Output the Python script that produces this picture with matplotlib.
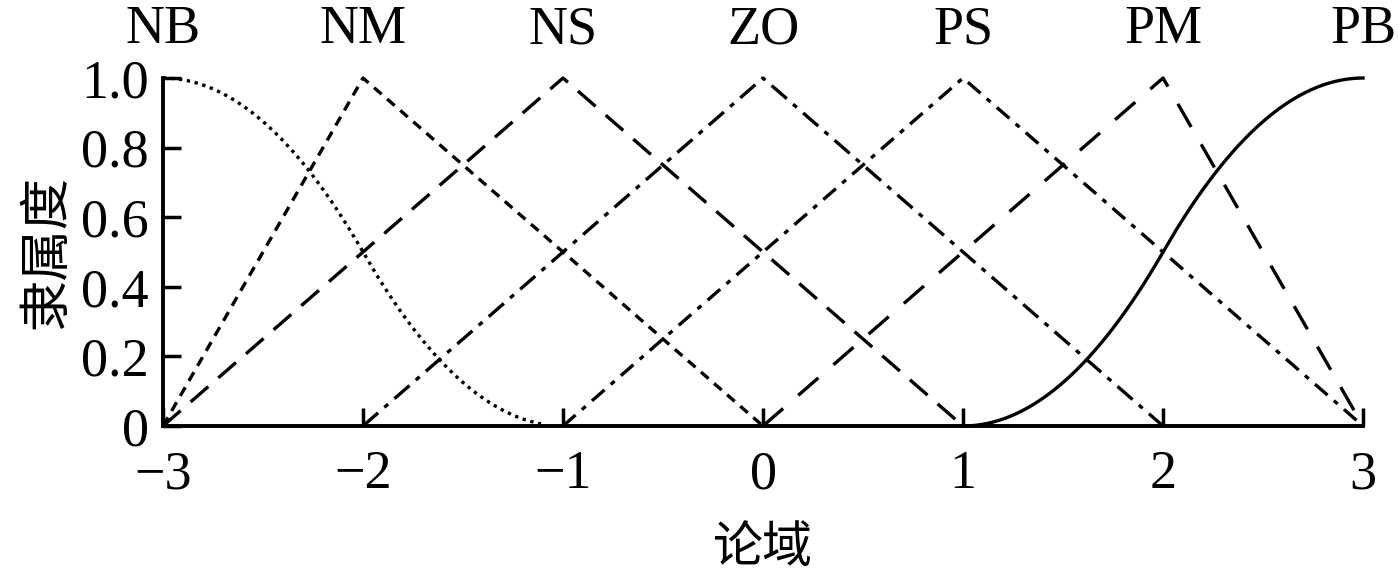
import numpy as np
import matplotlib
matplotlib.use("Agg")
import matplotlib.pyplot as plt

# Data
labels = ["NB", "NM", "NS", "ZO", "PS", "PM", "PB"]
label_pos = [-3, -2, -1, 0, 1, 2, 3]
# triangular sets: (left, peak, right)
tri_sets = {
    "NM": (-3, -2, 0),
    "NS": (-3, -1, 1),
    "ZO": (-2, 0, 2),
    "PS": (-1, 1, 3),
    "PM": (0, 2, 3),
}
nb_zmf = (-3, -1)
pb_smf = (1, 3)
xticks = [-3, -2, -1, 0, 1, 2, 3]
xticklabels = ["\u22123", "\u22122", "\u22121", "0", "1", "2", "3"]
yticks = [0, 0.2, 0.4, 0.6, 0.8, 1.0]
yticklabels = ["0", "0.2", "0.4", "0.6", "0.8", "1.0"]

def zmf(x, a, b):
    t = (x - a) / (b - a)
    y = np.where(t <= 0.5, 1 - 2 * t**2, 2 * (1 - t)**2)
    y = np.where(x <= a, 1.0, y)
    y = np.where(x >= b, 0.0, y)
    return y

def smf(x, a, b):
    return 1 - zmf(x, a, b)

plt.rcParams['font.family'] = ['Liberation Serif', 'DejaVu Serif']
fig = plt.figure(figsize=(13.99, 5.78), dpi=100)
ax = fig.add_axes([0.1165, 0.263, 0.8578, 0.602])

lw = 2.4
styles = {
    "NM": dict(linestyle=(0, (3, 2.2))),
    "NS": dict(linestyle=(0, (7, 4))),
    "ZO": dict(linestyle=(0, (6, 2.5, 1.5, 2.5))),
    "PS": dict(linestyle=(0, (5, 2.5, 1.5, 2.5))),
    "PM": dict(linestyle=(0, (8, 6))),
}

xs = np.linspace(-3, 3, 601)
ax.plot(xs[xs <= -1.1], zmf(xs[xs <= -1.1], *nb_zmf), color='black', lw=lw,
        linestyle=(0, (1, 1.4)), clip_on=False)
for name, (l, p, r) in tri_sets.items():
    ax.plot([l, p, r], [0, 1, 0], color='black', lw=lw, clip_on=False, **styles[name])
xp = xs[xs >= 1]
ax.plot(xp, smf(xp, *pb_smf), color='black', lw=lw, clip_on=False)

ax.set_xlim(-3, 3)
ax.set_ylim(0, 1)
ax.spines['top'].set_visible(False)
ax.spines['right'].set_visible(False)
for s in ['left', 'bottom']:
    ax.spines[s].set_linewidth(2.8)
ax.set_xticks(xticks)
ax.set_xticklabels(xticklabels)
ax.set_yticks(yticks)
ax.set_yticklabels(yticklabels)
ax.tick_params(direction='in', length=13, width=2.5, labelsize=39, pad=10)
ax.tick_params(axis='x', pad=17)

for lab, xp_ in zip(labels, label_pos):
    ax.text(xp_, 1.138, lab, transform=ax.get_xaxis_transform(), ha='center', va='center', fontsize=39)

ax.set_ylabel("隶属度", family=['Noto Sans CJK SC'], fontsize=37, labelpad=6)
ax.set_xlabel("论域", family=['Noto Sans CJK SC'], fontsize=36, labelpad=16)

fig.savefig("out.png", dpi=100)
